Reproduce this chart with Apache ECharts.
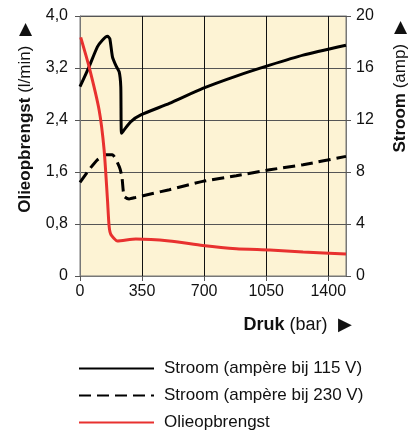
<!DOCTYPE html>
<html>
<head>
<meta charset="utf-8">
<script src="https://cdn.jsdelivr.net/npm/echarts@6/dist/echarts.min.js"></script>
<style>
  html, body { margin: 0; padding: 0; background: #fff; }
  #chart { width: 409px; height: 437px; }
</style>
</head>
<body>
<div id="chart"></div>
<script>
// druk (bar) en waarden
var oliePunten = [
    [4, 3.67], [51, 3.22], [108, 2.55], [136, 1.94], [155, 1.17], [164, 0.77],
    [174, 0.64], [211, 0.54], [315, 0.57], [504, 0.54], [692, 0.47], [881, 0.42],
    [1070, 0.40], [1258, 0.37], [1500, 0.34]
];
var stroom115 = [
    [0, 14.56], [51, 16.09], [98, 17.62], [126, 18.14], [155, 18.44], [168, 18.26],
    [183, 16.86], [202, 16.2], [221, 15.7], [230, 14.56], [234, 10.98], [249, 11.24],
    [287, 11.88], [343, 12.39], [504, 13.28], [692, 14.43], [881, 15.38],
    [1070, 16.22], [1258, 16.99], [1500, 17.75]
];
var stroom230 = [
    [0, 7.2], [51, 8.17], [98, 8.94], [145, 9.32], [183, 9.32], [221, 8.43],
    [236, 7.66], [249, 6.13], [277, 5.93], [315, 6.05], [504, 6.64], [692, 7.28],
    [881, 7.71], [1070, 8.17], [1258, 8.56], [1500, 9.2]
];
var serieNamen = ['Stroom (ampère bij 115 V)', 'Stroom (ampère bij 230 V)', 'Olieopbrengst'];

let chart = echarts.init(document.getElementById('chart'));
let fontFam = 'Liberation Sans, Arial, sans-serif';

let option = {
    animation: false,
    textStyle: { fontFamily: fontFam },
    grid: {
        left: 80, right: 63, top: 16, bottom: 161,
        outerBoundsMode: 'none',
        containLabel: false,
        show: true,
        backgroundColor: '#fdf3d4',
        borderColor: '#777',
        borderWidth: 1
    },
    legend: {
        orient: 'vertical',
        left: 78,
        top: 360,
        padding: 0,
        itemWidth: 75,
        itemHeight: 14,
        itemGap: 10,
        data: serieNamen,
        itemStyle: { opacity: 0 },
        textStyle: { fontSize: 17, color: '#111', fontFamily: fontFam, padding: [0, 0, 0, 5] }
    },
    xAxis: {
        type: 'value',
        min: 0, max: 1500, interval: 350,
        name: '{b|Druk} (bar)  ▶',
        nameLocation: 'middle',
        nameGap: 40,
        nameTextStyle: {
            fontSize: 18, color: '#111', padding: [0, 0, 0, 169],
            rich: { b: { fontWeight: 'bold', fontSize: 18, color: '#111' } }
        },
        axisLine: { lineStyle: { color: '#777', width: 1 } },
        axisTick: { show: true, length: 5, lineStyle: { color: '#555' } },
        axisLabel: {
            fontSize: 16, color: '#111', margin: 8, showMaxLabel: false,
            formatter: function (v) { return String(v); }
        },
        splitLine: { show: true, lineStyle: { color: '#111', width: 1 } }
    },
    yAxis: [{
        type: 'value',
        min: 0, max: 4, interval: 0.8,
        position: 'left',
        name: '{b|Olieopbrengst} (l/min)  ▶',
        nameLocation: 'middle',
        nameRotate: 90,
        nameGap: 46,
        nameTextStyle: {
            fontSize: 17, color: '#111', padding: [0, 0, 0, 56],
            rich: { b: { fontWeight: 'bold', fontSize: 17, color: '#111' } }
        },
        axisLine: { show: true, lineStyle: { color: '#777' } },
        axisTick: { show: true, length: 5, lineStyle: { color: '#555' } },
        axisLabel: {
            fontSize: 16, color: '#111', margin: 12,
            formatter: function (v) {
                return v === 0 ? '0' : v.toFixed(1).replace('.', ',');
            }
        },
        splitLine: { show: true, lineStyle: { color: '#555', width: 1 } }
    }, {
        type: 'value',
        min: 0, max: 20, interval: 4,
        position: 'right',
        name: '{b|Stroom} (amp)  ▶',
        nameLocation: 'middle',
        nameRotate: 90,
        nameGap: 46,
        nameTextStyle: {
            fontSize: 17, color: '#111', padding: [0, 0, 0, 118],
            rich: { b: { fontWeight: 'bold', fontSize: 17, color: '#111' } }
        },
        axisLine: { show: true, lineStyle: { color: '#777' } },
        axisTick: { show: true, length: 5, lineStyle: { color: '#555' } },
        axisLabel: { fontSize: 16, color: '#111', margin: 10 },
        splitLine: { show: false }
    }],
    series: [{
        name: serieNamen[0],
        type: 'line',
        yAxisIndex: 1,
        data: stroom115,
        smooth: 0.2,
        symbol: 'none',
        lineStyle: { color: '#000', width: 3 },
        itemStyle: { color: '#000' }
    }, {
        name: serieNamen[1],
        type: 'line',
        yAxisIndex: 1,
        data: stroom230,
        smooth: 0.2,
        symbol: 'none',
        lineStyle: { color: '#000', width: 3, type: [12, 6] },
        itemStyle: { color: '#000' }
    }, {
        name: serieNamen[2],
        type: 'line',
        yAxisIndex: 0,
        data: oliePunten,
        smooth: 0.2,
        symbol: 'none',
        lineStyle: { color: '#e8312f', width: 3 },
        itemStyle: { color: '#e8312f' }
    }]
};

chart.setOption(option);
</script>
</body>
</html>
